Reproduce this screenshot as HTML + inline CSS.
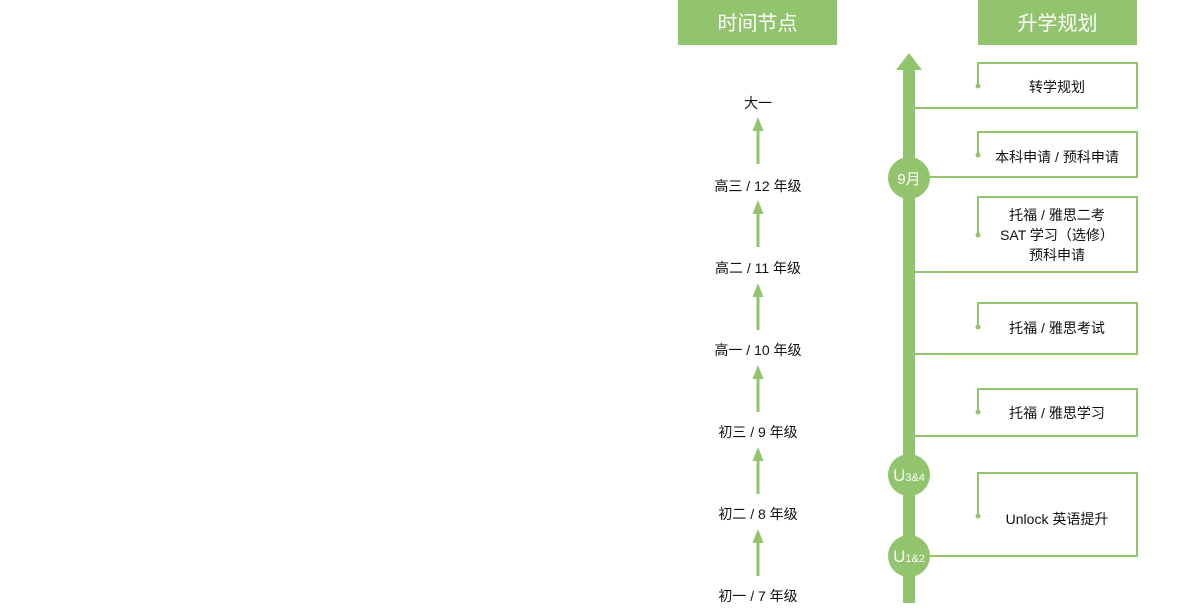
<!DOCTYPE html>
<html><head><meta charset="utf-8"><style>
body{margin:0;width:1192px;height:611px;background:#fff;overflow:hidden;font-family:"Liberation Sans","Noto Sans CJK SC",sans-serif;}
svg{position:absolute;left:0;top:0}
</style></head><body>
<svg width="1192" height="611" viewBox="0 0 1192 611" font-family="Liberation Sans, Noto Sans CJK SC, sans-serif">
<rect x="678" y="0" width="159" height="45" fill="#91c46d"/>
<rect x="978" y="0" width="159" height="45" fill="#91c46d"/>
<text x="757.5" y="30" font-size="20" fill="#fff" text-anchor="middle">时间节点</text>
<text x="1057.5" y="30" font-size="20" fill="#fff" text-anchor="middle">升学规划</text>
<g font-size="14" fill="#111" text-anchor="middle">
<text x="758" y="108">大一</text>
<text x="758" y="191">高三 / 12 年级</text>
<text x="758" y="273">高二 / 11 年级</text>
<text x="758" y="355">高一 / 10 年级</text>
<text x="758" y="437">初三 / 9 年级</text>
<text x="758" y="519">初二 / 8 年级</text>
<text x="758" y="601">初一 / 7 年级</text>
</g>
<g fill="#91c46d" stroke="#91c46d">
<g id="a"><line x1="758" y1="128" x2="758" y2="164" stroke-width="3"/><polygon points="758,117 752.5,131 763.5,131" stroke="none"/></g>
<use href="#a" y="83"/><use href="#a" y="166"/><use href="#a" y="248"/><use href="#a" y="330"/><use href="#a" y="412"/>
</g>
<g fill="none" stroke="#91c46d" stroke-width="2">
<path d="M978,86 V63 H1137 V108 H915"/>
<path d="M978,155 V132 H1137 V177 H915"/>
<path d="M978,235 V197 H1137 V272 H915"/>
<path d="M978,327 V303 H1137 V354 H915"/>
<path d="M978,412 V389 H1137 V436 H915"/>
<path d="M978,516 V473 H1137 V556 H915"/>
</g>
<g fill="#91c46d">
<circle cx="978" cy="86" r="2.5"/><circle cx="978" cy="155" r="2.5"/><circle cx="978" cy="235" r="2.5"/><circle cx="978" cy="327" r="2.5"/><circle cx="978" cy="412" r="2.5"/><circle cx="978" cy="516" r="2.5"/>
<rect x="903" y="68" width="12" height="535"/>
<polygon points="909,53 896,70 922,70"/>
<circle cx="909" cy="178" r="21"/>
<circle cx="909" cy="475" r="21"/>
<circle cx="909" cy="556" r="21"/>
</g>
<g fill="#fff" text-anchor="middle">
<text x="909" y="184" font-size="15">9月</text>
<text x="909" y="481" font-size="17">U<tspan font-size="11">3&amp;4</tspan></text>
<text x="909" y="562" font-size="17">U<tspan font-size="11">1&amp;2</tspan></text>
</g>
<g font-size="14" fill="#111" text-anchor="middle">
<text x="1057" y="92">转学规划</text>
<text x="1057" y="162">本科申请 / 预科申请</text>
<text x="1057" y="220">托福 / 雅思二考</text>
<text x="1057" y="240">SAT 学习（选修）</text>
<text x="1057" y="260">预科申请</text>
<text x="1057" y="333">托福 / 雅思考试</text>
<text x="1057" y="418">托福 / 雅思学习</text>
<text x="1057" y="524">Unlock 英语提升</text>
</g>
</svg>
</body></html>
